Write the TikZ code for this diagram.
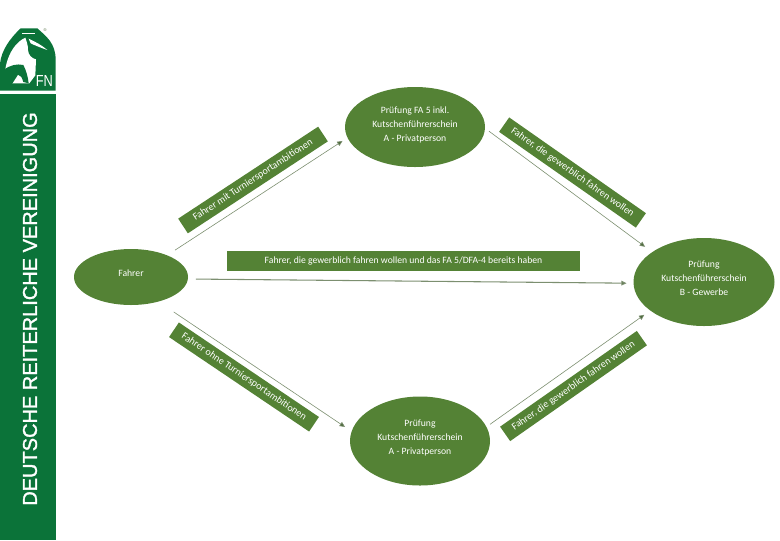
\documentclass[tikz,border=0pt]{standalone}
\usepackage{fontspec}
\setmainfont{Carlito}
\newfontfamily\arialf{Liberation Sans}
\newfontfamily\sidef[FakeBold=1.5]{Liberation Sans}
\usetikzlibrary{shapes.geometric,arrows.meta}
\definecolor{fngreen}{HTML}{0B7339}
\definecolor{boxgreen}{HTML}{548235}
\definecolor{linegreen}{HTML}{7C8F70}
\definecolor{headgreen}{HTML}{4F6B3F}
\tikzset{
  oval/.style={ellipse,fill=boxgreen,draw=none,inner sep=0pt,outer sep=0pt},
  ovaltext/.style={text=white,font=\fontsize{7.25}{10.5}\selectfont,align=center,yshift=2.5pt},
  tag/.style={fill=boxgreen,draw=none,text=white,inner sep=0pt,outer sep=0pt,minimum height=13.2pt,font=\fontsize{7.5}{8}\selectfont},
  conn/.style={draw=linegreen,line width=.45pt,-{Triangle[length=4pt,width=3.6pt,fill=headgreen]}},
}
\begin{document}
\begin{tikzpicture}[x=.75pt,y=-.75pt]
\useasboundingbox (0,0) rectangle (780,540);
% side bar
\fill[fngreen] (0,94) rectangle (56,540);
\node[rotate=90,text=white,inner sep=0pt,font=\sidef\fontsize{15}{16}\selectfont] (sidetext) at (30,309) {DEUTSCHE REITERLICHE VEREINIGUNG};
% logo, drawn in units of a third of a pixel
\begin{scope}[x=.25pt,y=-.25pt]
\fill[fngreen] (0,272) -- (0,190) .. controls (5,150) and (30,115) .. (62,85) -- (112,85) .. controls (140,110) and (167,130) .. (167,180) -- (167,272) -- cycle;
\fill[white] (66,98) rectangle (106,102);
\fill[white] (76,113) .. controls (50,125) and (25,155) .. (16,207) -- (40,215) -- (36,250) -- (88,250) -- (106,226) -- (108,178) .. controls (95,175) and (85,165) .. (84,150) .. controls (84,135) and (80,125) .. cycle;
\fill[fngreen] (14,207) .. controls (30,197) and (50,190) .. (70,195) .. controls (78,210) and (84,230) .. (86,250) -- (70,246) .. controls (66,232) and (62,226) .. (54,224) -- (36,252) -- (28,215) -- cycle;
\fill[white] (86,116) .. controls (105,125) and (125,135) .. (142,150) .. controls (122,143) and (102,135) .. (92,130) -- cycle;
\end{scope}
\node[text=white,inner sep=0pt,xscale=.8,font=\arialf\fontsize{12}{12}\selectfont] (fn) at (44.3,81) {FN};
\node[text=headgreen,inner sep=0pt,font=\arialf\fontsize{3}{3}\selectfont] (reg) at (45,30) {®};
% ovals
\node[oval,minimum width=85.5pt,minimum height=42pt,label={[ovaltext]center:Fahrer}] (fahrer) at (131,277) {};
\node[oval,minimum width=105pt,minimum height=60pt,label={[ovaltext,yshift=-1pt]center:Prüfung FA 5 inkl.\\Kutschenführerschein\\A - Privatperson}] (top) at (415,127) {};
\node[oval,minimum width=105.75pt,minimum height=66pt,label={[ovaltext]center:Prüfung\\Kutschenführerschein\\B - Gewerbe}] (right) at (704,282) {};
\node[oval,minimum width=105pt,minimum height=66.75pt,label={[ovaltext]center:Prüfung\\Kutschenführerschein\\A - Privatperson}] (bottom) at (420,441) {};
% tags
\node[tag,minimum width=265pt,minimum height=15pt,font=\fontsize{7.25}{8}\selectfont] (mid) at (403.5,261) {Fahrer, die gewerblich fahren wollen und das FA 5/DFA-4 bereits haben};
\node[tag,minimum width=125.6pt,rotate=33.3] (tl) at (253,180) {Fahrer mit Turniersportambitionen};
\node[tag,minimum width=125.2pt,rotate=-35] (tr) at (572.5,172.5) {Fahrer, die gewerblich fahren wollen};
\node[tag,minimum width=126.7pt,rotate=-34] (bl) at (244,377) {Fahrer ohne Turniersportambitionen};
\node[tag,minimum width=125.2pt,rotate=35] (br) at (573.5,386) {Fahrer, die gewerblich fahren wollen};
% connectors
\draw[conn,shorten <=7.1pt,shorten >=4.5pt] (fahrer.31.4) -- (top.189.5);
\draw[conn,shorten <=3.7pt,shorten >=6.7pt] (top.-1) -- (right.150.4);
\draw[conn,line width=.8pt,shorten <=6pt,shorten >=5.2pt] (fahrer.-2) -- (right.181);
\draw[conn,shorten <=13.9pt,shorten >=6pt] (fahrer.-42.9) -- (bottom.172);
\draw[conn,shorten <=3.4pt,shorten >=5.5pt] (bottom.12.8) -- (right.208.5);
\end{tikzpicture}
\end{document}
